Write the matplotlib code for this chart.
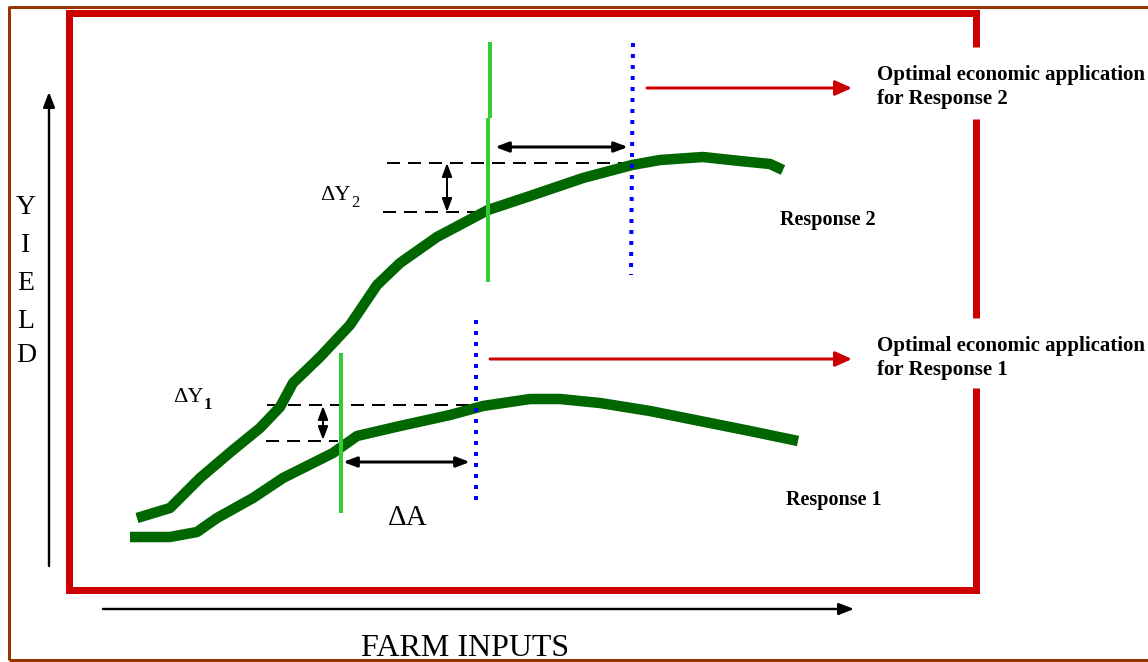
import matplotlib
matplotlib.use("Agg")
import matplotlib.pyplot as plt

# ---- data (pixel coordinates of the original image) ----
resp1_x = [130, 170, 197, 217, 253, 283, 333, 357, 400, 450, 483, 530, 560, 600, 650, 700, 750, 798]
resp1_y = [537, 537, 532, 518, 498, 478, 453, 436, 426, 415, 406, 399, 399, 403, 411, 421, 431, 441]

resp2_x = [137, 170, 200, 233, 260, 280, 293, 320, 350, 377, 400, 437, 488, 533, 583, 632, 660, 703, 740, 770, 783]
resp2_y = [518, 508, 478, 450, 428, 407, 383, 357, 325, 285, 263, 237, 210, 195, 178, 165, 160, 157, 161, 164, 170]

yield_letters = ["Y", "I", "E", "L", "D"]
yield_letter_y = [207, 245, 283, 321, 355]

x_label = "FARM INPUTS"
opt_label_2 = "Optimal economic application\nfor Response 2"
opt_label_1 = "Optimal economic application\nfor Response 1"
resp_label_2 = "Response 2"
resp_label_1 = "Response 1"

W, H = 1148, 662
PX = 72 / 100  # points per pixel

SERIF = ["Liberation Serif", "DejaVu Serif"]

fig = plt.figure(figsize=(W / 100, H / 100), dpi=100)
ax = fig.add_axes([0, 0, 1, 1])
ax.set_xlim(0, W)
ax.set_ylim(H, 0)
ax.axis("off")

# outer brown frame
brown = "#993300"
ax.plot([9, 9], [6, 660], color=brown, lw=3 * PX, solid_capstyle="butt")
ax.plot([9, W], [6.5, 6.5], color=brown, lw=3 * PX, solid_capstyle="butt")
ax.plot([9, W], [660, 660], color=brown, lw=3 * PX, solid_capstyle="butt")

# red box (right side interrupted by labels)
red = "#cc0000"
rlw = 7 * PX
ax.plot([975.5, 975.5, 68.5, 68.5, 975.5, 975.5], [47, 12.5, 12.5, 590, 590, 388],
        color=red, lw=rlw, solid_joinstyle="miter", solid_capstyle="butt")
ax.plot([975.5, 975.5], [119, 318], color=red, lw=rlw, solid_capstyle="butt")

# axes arrows
ax.annotate("", xy=(49, 92), xytext=(49, 566),
            arrowprops=dict(arrowstyle="-|>,head_length=0.9,head_width=0.35", lw=2.4 * PX,
                            color="black", shrinkA=0, shrinkB=0))
ax.annotate("", xy=(854, 609), xytext=(103, 609),
            arrowprops=dict(arrowstyle="-|>,head_length=0.9,head_width=0.35", lw=2.4 * PX,
                            color="black", shrinkA=0, shrinkB=0))

for letter, ly in zip(yield_letters, yield_letter_y):
    ax.text(26, ly, letter, family=SERIF, fontsize=20, ha="center", va="center")
ax.text(361, 648, x_label, family=SERIF, fontsize=23, ha="left", va="center")

# dashed helper lines
dash_kw = dict(color="black", lw=2 * PX, dashes=(6.5, 4), dash_capstyle="butt")
ax.plot([387, 637], [163, 163], **dash_kw)
ax.plot([383, 485], [212, 212], **dash_kw)
ax.plot([267, 478], [405, 405], **dash_kw)
ax.plot([266, 338], [441, 441], **dash_kw)

# response curves
green_dark = "#006600"
ax.plot(resp1_x, resp1_y, color=green_dark, lw=10.5 * PX, solid_capstyle="butt", solid_joinstyle="round")
ax.plot(resp2_x, resp2_y, color=green_dark, lw=10.5 * PX, solid_capstyle="butt", solid_joinstyle="round")

# bright green vertical markers
green_light = "#33cc33"
ax.plot([341, 341], [353, 513], color=green_light, lw=4 * PX, solid_capstyle="butt")
ax.plot([490, 490], [42, 118], color=green_light, lw=4 * PX, solid_capstyle="butt")
ax.plot([488, 488], [118, 282], color=green_light, lw=4 * PX, solid_capstyle="butt")

# blue dotted optimum lines
dot_kw = dict(color="#0000ff", lw=4 * PX, dashes=(1, 1.75), dash_capstyle="butt")
ax.plot([633, 631], [43, 275], **dot_kw)
ax.plot([476, 476], [320, 506], **dot_kw)

# double arrows
def dbl(p0, p1, lw=2.5):
    ax.annotate("", xy=p1, xytext=p0,
                arrowprops=dict(arrowstyle="<|-|>,head_length=0.8,head_width=0.3", lw=lw * PX,
                                color="black", shrinkA=0, shrinkB=0))

dbl((495, 147), (628, 147), 3)
dbl((447, 163), (447, 212), 2)
dbl((323, 406), (323, 440), 2)
dbl((343, 462), (470, 462), 3)

# red pointer arrows
ax.annotate("", xy=(852, 88), xytext=(647, 88),
            arrowprops=dict(arrowstyle="-|>,head_length=1.0,head_width=0.45", lw=3 * PX,
                            color=red, shrinkA=0, shrinkB=0))
ax.annotate("", xy=(852, 359), xytext=(490, 359),
            arrowprops=dict(arrowstyle="-|>,head_length=1.0,head_width=0.45", lw=3 * PX,
                            color=red, shrinkA=0, shrinkB=0))

# labels
ax.text(877, 87, opt_label_2, family=SERIF, fontsize=15, fontweight="bold",
        ha="left", va="center", linespacing=1.3)
ax.text(877, 358, opt_label_1, family=SERIF, fontsize=15, fontweight="bold",
        ha="left", va="center", linespacing=1.3)
ax.text(780, 220, resp_label_2, family=SERIF, fontsize=14.5, fontweight="bold", ha="left", va="center")
ax.text(786, 500, resp_label_1, family=SERIF, fontsize=14.5, fontweight="bold", ha="left", va="center")

# delta labels
ax.text(320, 196, "ΔY", family=SERIF, fontsize=16, ha="left", va="center")
ax.text(351, 203, "2", family=SERIF, fontsize=12, ha="left", va="center")
ax.text(173, 398, "ΔY", family=SERIF, fontsize=16, ha="left", va="center")
ax.text(204, 405, "1", family=SERIF, fontsize=12, fontweight="bold", ha="left", va="center")
ax.text(388, 518, "ΔA", family=SERIF, fontsize=21, ha="left", va="center")

fig.savefig("out.png", dpi=100)
